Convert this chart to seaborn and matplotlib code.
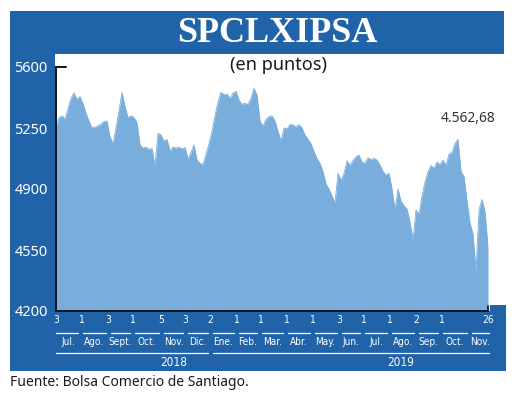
import matplotlib
matplotlib.use("Agg")
import matplotlib.pyplot as plt
from matplotlib.patches import Rectangle
import pandas as pd
import seaborn as sns

# ── data (roughly one value every 3 calendar days) ──
ipsa = [
    5258, 5310, 5320, 5300, 5360, 5420, 5452, 5415, 5430, 5390,
    5334, 5290, 5250, 5255, 5262, 5272, 5288, 5290, 5200, 5160,
    5250, 5350, 5455, 5373, 5310, 5320, 5310, 5280, 5153, 5135,
    5140, 5128, 5132, 5030, 5220, 5210, 5175, 5185, 5118, 5140,
    5135, 5140, 5130, 5138, 5070, 5110, 5153, 5066, 5047, 5040,
    5100, 5160, 5230, 5320, 5400, 5455, 5440, 5445, 5420, 5450,
    5460, 5410, 5385, 5392, 5385, 5420, 5478, 5440, 5290, 5260,
    5300, 5315, 5320, 5290, 5230, 5175, 5250, 5245, 5270, 5268,
    5255, 5270, 5250, 5210, 5185, 5160, 5115, 5075, 5047, 5000,
    4930, 4900, 4860, 4820, 4990, 4950, 4990, 5062, 5035, 5065,
    5085, 5095, 5055, 5047, 5080, 5068, 5076, 5066, 5038, 5000,
    4980, 4990, 4900, 4780, 4900, 4830, 4805, 4785, 4710, 4607,
    4780, 4755, 4860, 4940, 5000, 5035, 5018, 5055, 5040, 5066,
    5035, 5100, 5110, 5160, 5185, 5000, 4971, 4830, 4705, 4640,
    4430, 4780, 4840, 4770, 4563,
]
start_date, end_date = "2018-07-03", "2019-11-26"
last_label = "4.562,68"

y_ticks = [4200, 4550, 4900, 5250, 5600]

tick_dates = ["2018-07-03", "2018-08-01", "2018-09-03", "2018-10-01", "2018-11-05",
              "2018-12-03", "2019-01-02", "2019-02-01", "2019-03-01", "2019-04-01",
              "2019-05-02", "2019-06-03", "2019-07-01", "2019-08-01", "2019-09-02",
              "2019-10-01", "2019-11-26"]
tick_days = ["3", "1", "3", "1", "5", "3", "2", "1", "1", "1",
             "1", "3", "1", "1", "2", "1", "26"]

months = ["Jul.", "Ago.", "Sept.", "Oct.", "Nov.", "Dic.", "Ene.", "Feb.", "Mar.",
          "Abr.", "May.", "Jun.", "Jul.", "Ago.", "Sep.", "Oct.", "Nov."]
month_edges = ["2018-07-03", "2018-08-01", "2018-09-03", "2018-10-01", "2018-11-05",
               "2018-12-03", "2019-01-02", "2019-02-01", "2019-03-01", "2019-04-01",
               "2019-05-02", "2019-06-03", "2019-07-01", "2019-08-01", "2019-09-02",
               "2019-10-01", "2019-11-04", "2019-11-30"]

years = ["2018", "2019"]
year_edges = ["2018-07-03", "2019-01-02", "2019-11-30"]
year_label_dates = ["2018-11-19", "2019-08-15"]

# ── style ──
FRAME = "#2163a9"
FILL = "#79aedc"
NARROW = dict(family=["DejaVu Sans"], stretch="condensed")

sns.set_theme(style="white")
plt.rcParams["font.family"] = ["Noto Sans", "DejaVu Sans"]

W, H = 520, 396
fig = plt.figure(figsize=(W / 100, H / 100), dpi=100)
fig.patch.set_facecolor("white")


def px_rect(x0, y0, x1, y1):
    """Blue frame piece in figure pixel coords (top-left origin)."""
    fig.add_artist(Rectangle((x0 / W, 1 - y1 / H), (x1 - x0) / W, (y1 - y0) / H,
                             transform=fig.transFigure, facecolor=FRAME,
                             edgecolor="none", zorder=-1))


px_rect(10, 11, 504, 54)     # title band
px_rect(10, 54, 55, 371)     # left strip
px_rect(10, 311, 506, 371)   # bottom strip
px_rect(490, 305, 506, 311)

ax = fig.add_axes([56 / W, 1 - 311 / H, 432 / W, 244 / H])
ax.patch.set_alpha(0)

df = pd.DataFrame({
    "date": pd.date_range(start_date, end_date, periods=len(ipsa)),
    "ipsa": ipsa,
})
ax.fill_between(df["date"], 4200, df["ipsa"], color=FILL, lw=0, zorder=1)
sns.lineplot(data=df, x="date", y="ipsa", color=FILL, lw=0.6, ax=ax, zorder=2)

ax.set_xlim(pd.Timestamp(start_date), pd.Timestamp(end_date))
ax.set_ylim(4200, 5600)
ax.set_xlabel("")
ax.set_ylabel("")

for side in ("top", "right"):
    ax.spines[side].set_visible(False)
for side in ("left", "bottom"):
    ax.spines[side].set_color("#111111")
    ax.spines[side].set_linewidth(1.4)
    ax.spines[side].set_zorder(3)

ax.set_yticks(y_ticks, [str(v) for v in y_ticks])
ax.tick_params(axis="y", length=0, pad=6, labelsize=10.5, labelcolor="white")
ax.set_xticks(pd.to_datetime(tick_dates), tick_days)
ax.tick_params(axis="x", length=0, pad=3, labelsize=7.5, labelcolor="white")
for lab in ax.get_xticklabels():
    lab.set_family(NARROW["family"])
    lab.set_stretch(NARROW["stretch"])

# little end ticks on the axis corners
ax.plot([0, 0.024], [1, 1], transform=ax.transAxes, color="#111111", lw=1.4,
        clip_on=False, zorder=3)
ax.plot([1, 1], [0, 0.02], transform=ax.transAxes, color="#111111", lw=1.2,
        clip_on=False, zorder=3)

# month / year brackets under the axis
xt = ax.get_xaxis_transform()
gap = pd.Timedelta(days=3)
edges = pd.to_datetime(month_edges)
for i, name in enumerate(months):
    a = edges[i] + (gap if i > 0 else pd.Timedelta(0))
    b = edges[i + 1] - gap
    ax.plot([a, b], [-0.09, -0.09], transform=xt, color="white", lw=0.9, clip_on=False)
    ax.text(edges[i] + (edges[i + 1] - edges[i]) / 2, -0.128, name, transform=xt,
            ha="center", va="center", color="white", fontsize=7.2, **NARROW)

yedges = pd.to_datetime(year_edges)
for i, yr in enumerate(years):
    a = yedges[i] + (gap if i > 0 else pd.Timedelta(0))
    b = yedges[i + 1] - gap
    ax.plot([a, b], [-0.172, -0.172], transform=xt, color="white", lw=0.9, clip_on=False)
    ax.text(pd.Timestamp(year_label_dates[i]), -0.21, yr, transform=xt,
            ha="center", va="center", color="white", fontsize=8.5, **NARROW)

# texts
fig.text(277 / W, 1 - 33 / H, "SPCLXIPSA", ha="center", va="center", color="white",
         fontsize=26, fontweight="bold", family="Liberation Serif")
fig.text(278 / W, 1 - 65 / H, "(en puntos)", ha="center", va="center",
         color="#1a1a1a", fontsize=13)
fig.text(468 / W, 1 - 118 / H, last_label, ha="center", va="center",
         color="#333333", fontsize=10)
fig.text(10 / W, 1 - 383 / H, "Fuente: Bolsa Comercio de Santiago.", ha="left",
         va="center", color="#1a1a1a", fontsize=10)

fig.savefig("out.png", dpi=100)
plt.close(fig)
